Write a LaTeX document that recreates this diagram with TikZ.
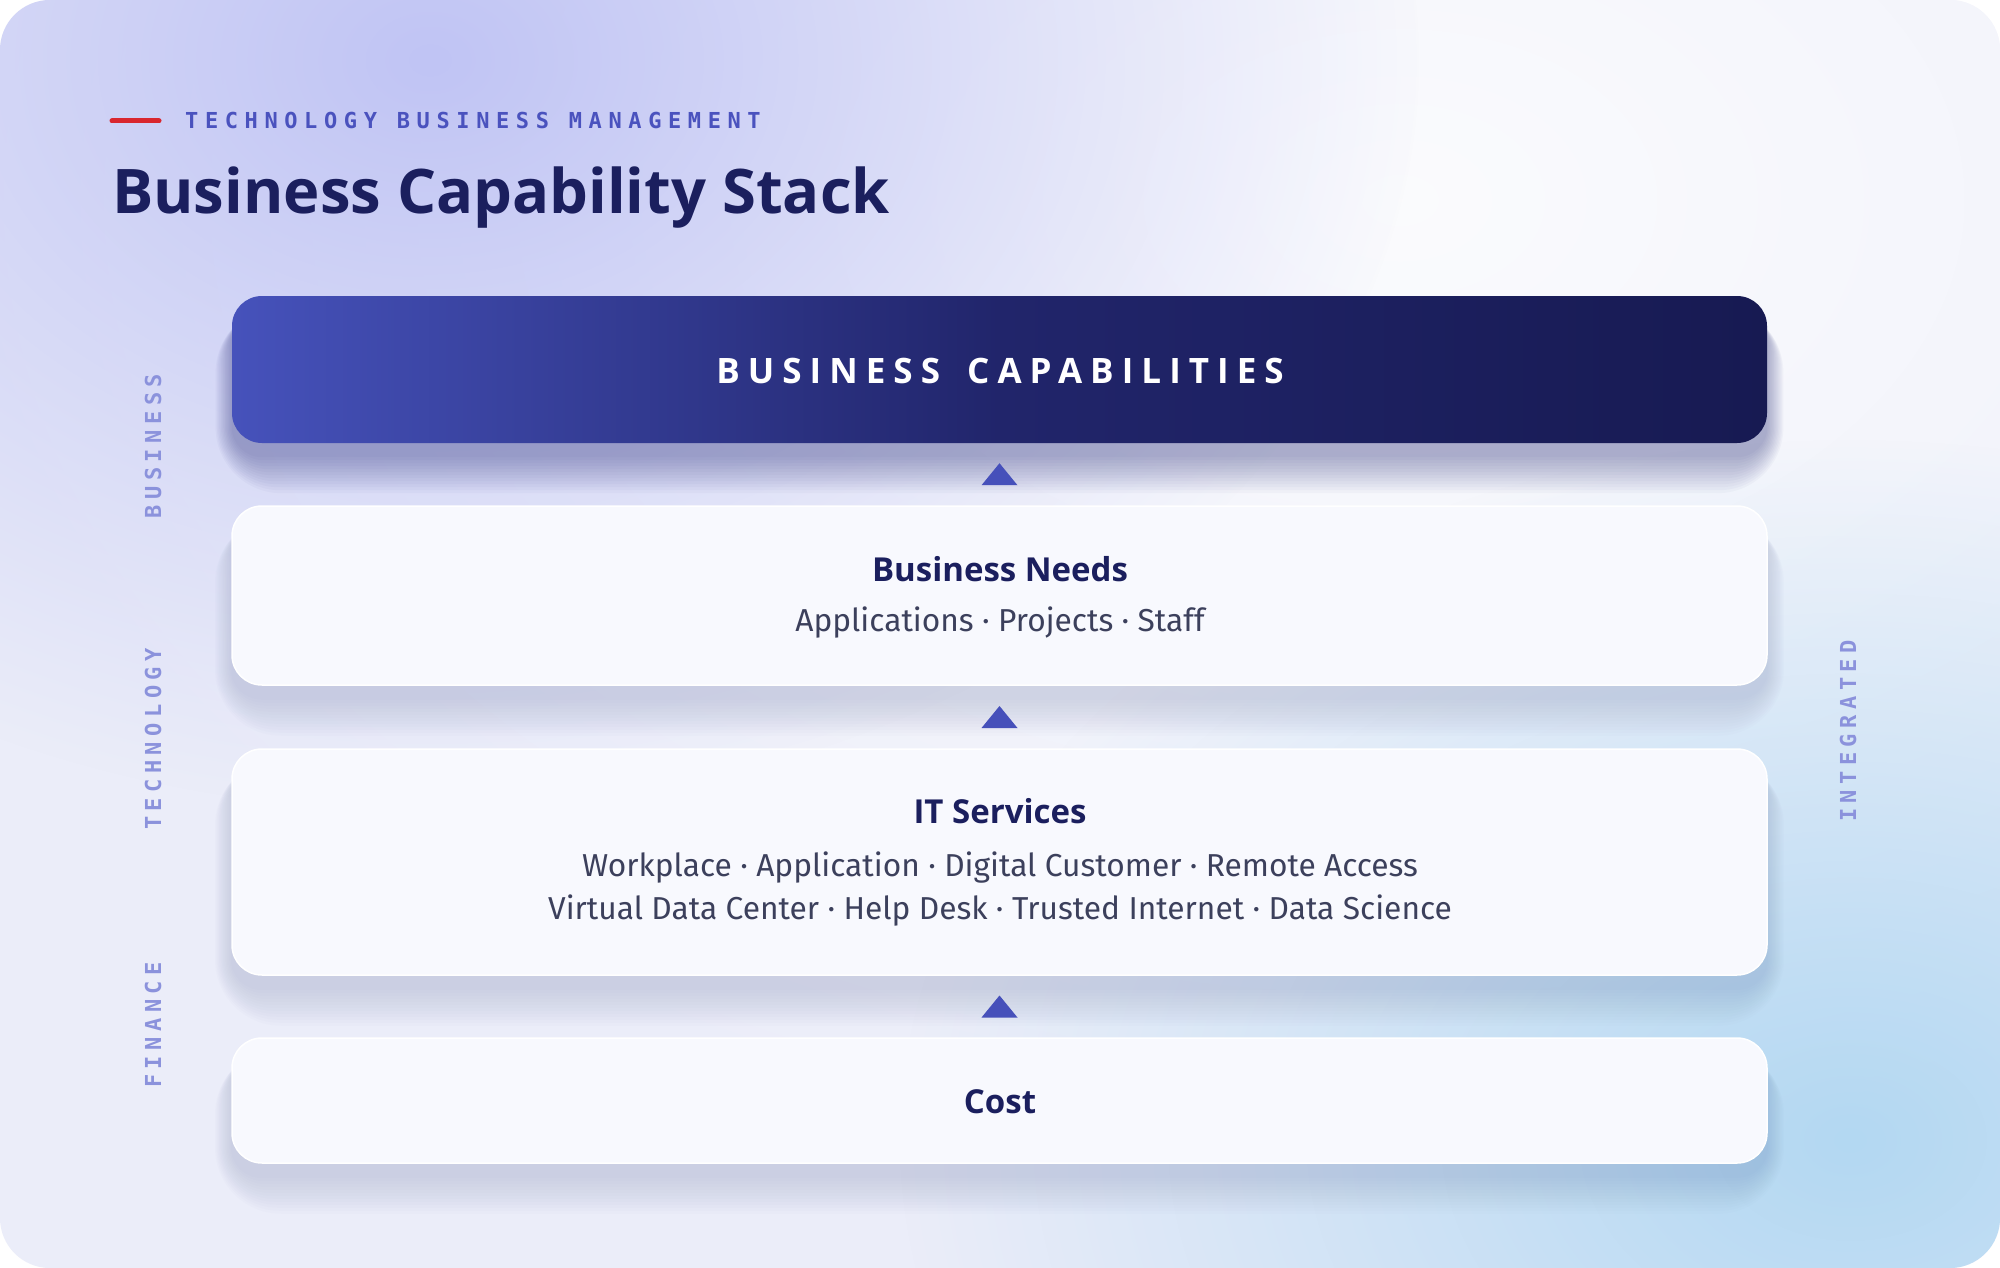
\documentclass[tikz,border=0pt]{standalone}
\usepackage{fontspec}
\setmainfont{Open Sans}
\newfontfamily\headfont{Open Sans}
\newfontfamily\bodyfont[Ligatures=NoCommon]{Fira Sans}
\newfontfamily\eyefont[LetterSpace=30]{DejaVu Sans Mono}
\newfontfamily\sidefont[LetterSpace=25]{DejaVu Sans Mono}
\newfontfamily\capfont[LetterSpace=23]{Open Sans}
\usetikzlibrary{calc,fadings}
\pgfdeclarelayer{bglayer}
\pgfdeclarelayer{shadowlayer}
\pgfsetlayers{bglayer,shadowlayer,main}
\definecolor{navy}{HTML}{1B1F5E}
\definecolor{eyebrow}{HTML}{4A52BE}
\definecolor{sidelbl}{HTML}{8B92DC}
\definecolor{tricol}{HTML}{4650BA}
\definecolor{subtxt}{HTML}{3C405C}
\definecolor{boxfill}{HTML}{F8F9FE}
\definecolor{bgbase}{HTML}{EBEDF9}
\definecolor{lav}{HTML}{C0C4F4}
\definecolor{skyb}{HTML}{B3D8F2}
\definecolor{capL}{HTML}{4652BB}
\definecolor{capM}{HTML}{21256B}
\definecolor{capR}{HTML}{171A52}
\definecolor{accent}{HTML}{D9262E}
\definecolor{shwhite}{HTML}{5A62A8}
\definecolor{shdark}{HTML}{262B78}
\tikzfading[name=radfade, inner color=transparent!0, outer color=transparent!100]
\newcommand\boxshadow[3]{%
  \foreach \s in {0,3,...,36} {
    \fill[#2, fill opacity=#3, rounded corners=30pt+\s pt]
      ($(#1.north west)+(-0.45*\s, 18-0.2*\s)$) rectangle ($(#1.south east)+(0.45*\s, 14+\s)$);
  }}
\begin{document}
\begin{tikzpicture}[x=1pt,y=-1pt,
  stackbox/.style={draw=white, line width=1.5pt, fill=boxfill, rounded corners=30pt,
    minimum width=1535pt, inner sep=0pt},
  capbox/.style={rounded corners=30pt, minimum width=1535pt, inner sep=0pt,
    left color=capL, right color=capR, middle color=capM},
  boxtitle/.style={anchor=base, inner sep=0pt, text=navy, font=\headfont\bfseries\fontsize{33}{40}\selectfont},
  boxbody/.style={anchor=base, inner sep=0pt, text=subtxt, font=\bodyfont\fontsize{31.7}{38}\selectfont},
  sidelabel/.style={rotate=90, inner sep=0pt, text=sidelbl, font=\sidefont\bfseries\fontsize{22}{26}\selectfont},
  tri/.style={fill=tricol}]
\useasboundingbox (0,0) rectangle (2000,1268);
% background
\begin{pgfonlayer}{bglayer}
  \fill[white] (0,0) rectangle (2000,1268);
  \begin{scope}
    \clip[rounded corners=50pt] (0,0) rectangle (2000,1268);
    \fill[bgbase] (0,0) rectangle (2000,1268);
    \fill[white, path fading=radfade, fill opacity=0.8] (1400,200) ellipse (1500pt and 1000pt);
    \fill[lav, path fading=radfade] (430,60) ellipse (1000pt and 750pt);
    \fill[skyb, path fading=radfade] (1850,1140) ellipse (950pt and 700pt);
  \end{scope}
\end{pgfonlayer}
% header
\coordinate (r1) at (112,121);
\coordinate (r2) at (159,121);
\draw[accent, line width=5pt, line cap=round] (r1) -- (r2);
\node[anchor=base west, inner sep=0pt, text=eyebrow, font=\eyefont\bfseries\fontsize{22}{26}\selectfont]
  (eyebrowT) at (185,129) {TECHNOLOGY BUSINESS MANAGEMENT};
\node[anchor=base west, inner sep=0pt, text=navy, font=\headfont\bfseries\fontsize{61.5}{70}\selectfont]
  (title) at (112,214) {Business Capability Stack};
% stack boxes
\node[capbox, minimum height=147pt] (cap) at (999.5,369.5) {};
\node[stackbox, minimum height=179pt] (needs) at (999.5,595.5) {};
\node[stackbox, minimum height=226pt] (its) at (999.5,862) {};
\node[stackbox, minimum height=125pt] (cost) at (999.5,1100.5) {};
\begin{pgfonlayer}{shadowlayer}
  \boxshadow{cap}{shdark}{0.03}
  \boxshadow{needs}{shwhite}{0.015}
  \boxshadow{its}{shwhite}{0.015}
  \boxshadow{cost}{shwhite}{0.015}
\end{pgfonlayer}
% texts
\node[anchor=base, inner sep=0pt, text=white, font=\capfont\bfseries\fontsize{35}{40}\selectfont]
  (capT) at (1000,383) {BUSINESS\hspace{10pt} CAPABILITIES};
\node[boxtitle] (needsT) at (1000,581) {Business Needs};
\node[boxbody] (needsB) at (1000,631) {Applications \textperiodcentered{} Projects \textperiodcentered{} Staff};
\node[boxtitle] (itsT) at (1000,823) {IT Services};
\node[boxbody] (itsB1) at (1000,876) {Workplace \textperiodcentered{} Application \textperiodcentered{} Digital Customer \textperiodcentered{} Remote Access};
\node[boxbody] (itsB2) at (1000,919) {Virtual Data Center \textperiodcentered{} Help Desk \textperiodcentered{} Trusted Internet \textperiodcentered{} Data Science};
\node[boxtitle] (costT) at (1000,1113) {Cost};
% arrows between layers
\coordinate (a1) at ($(cap.south)!0.5!(needs.north)$);
\coordinate (a2) at ($(needs.south)!0.5!(its.north)$);
\coordinate (a3) at ($(its.south)!0.5!(cost.north)$);
\foreach \a in {a1,a2,a3} {
  \fill[tri] ($(\a)+(-18,11)$) -- ($(\a)+(18,11)$) -- ($(\a)+(0,-11)$) -- cycle;
}
% side labels
\node[sidelabel] (lblB) at (153,446) {BUSINESS};
\node[sidelabel] (lblT) at (153,739) {TECHNOLOGY};
\node[sidelabel] (lblF) at (153,1025) {FINANCE};
\node[sidelabel] (lblI) at (1848,731) {INTEGRATED};
\end{tikzpicture}
\end{document}
